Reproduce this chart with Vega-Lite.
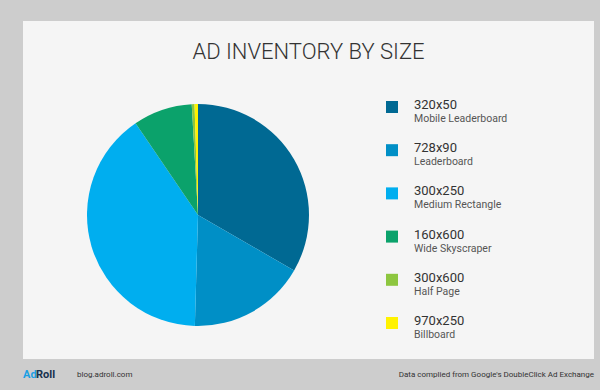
{
  "$schema": "https://vega.github.io/schema/vega-lite/v6.json",
  "background": "#cdcdcd",
  "padding": {"left": 23, "top": 21, "right": 6, "bottom": 0},
  "config": {"font": "Roboto", "view": {"stroke": null}},
  "spacing": 0,
  "resolve": {"scale": {"x": "independent", "y": "independent", "color": "independent"}},
  "datasets": {
    "inventory": [
      {"size": "320x50", "name": "Mobile Leaderboard", "share": 33.3},
      {"size": "728x90", "name": "Leaderboard", "share": 17.1},
      {"size": "300x250", "name": "Medium Rectangle", "share": 40.0},
      {"size": "160x600", "name": "Wide Skyscraper", "share": 8.6},
      {"size": "300x600", "name": "Half Page", "share": 0.4},
      {"size": "970x250", "name": "Billboard", "share": 0.5}
    ],
    "heading": [{"title": "AD INVENTORY BY SIZE"}]
  },
  "vconcat": [
    {
      "width": 571,
      "height": 57,
      "view": {"fill": "#f5f5f5", "stroke": null},
      "data": {"name": "heading"},
      "mark": {"type": "text", "fontSize": 22, "fontWeight": 300, "color": "#333333", "baseline": "alphabetic", "align": "center", "dy": 9.5, "dx": -2},
      "encoding": {
        "text": {"field": "title"},
        "x": {
          "field": "title",
          "type": "nominal",
          "scale": {"type": "point", "range": [23, 552]},
          "axis": {"orient": "bottom", "offset": 0, "domain": true, "domainColor": "#777777", "domainWidth": 1, "ticks": false, "labels": false, "title": null, "grid": false}
        }
      }
    },
    {
      "spacing": 0,
      "resolve": {"scale": {"x": "independent", "y": "independent", "color": "independent"}},
      "hconcat": [
        {
          "width": 350,
          "height": 281,
          "view": {"fill": "#f5f5f5", "stroke": null},
          "data": {"name": "inventory"},
          "transform": [{"window": [{"op": "row_number", "as": "idx"}]}],
          "mark": {"type": "arc", "radius": 111, "yOffset": -3.5},
          "encoding": {
            "theta": {"field": "share", "type": "quantitative", "stack": true},
            "order": {"field": "idx", "type": "quantitative"},
            "color": {
              "field": "size",
              "type": "nominal",
              "scale": {
                "domain": ["320x50", "728x90", "300x250", "160x600", "300x600", "970x250"],
                "range": ["#006993", "#008fc6", "#00aeef", "#0ba26b", "#8dc63f", "#fff200"]
              },
              "legend": null
            }
          }
        },
        {
          "width": 221,
          "height": 281,
          "view": {"fill": "#f5f5f5", "stroke": null},
          "data": {"name": "inventory"},
          "encoding": {
            "y": {
              "field": "size",
              "type": "nominal",
              "sort": ["320x50", "728x90", "300x250", "160x600", "300x600", "970x250"],
              "scale": {"type": "point", "padding": 0.752, "align": 0.446},
              "axis": null
            },
            "x": {"datum": "key", "type": "nominal", "scale": {"type": "point", "align": 0.086}, "axis": null}
          },
          "layer": [
            {
              "mark": {"type": "point", "shape": "square", "size": 144, "filled": true, "opacity": 1},
              "encoding": {
                "color": {
                  "field": "size",
                  "type": "nominal",
                  "scale": {
                    "domain": ["320x50", "728x90", "300x250", "160x600", "300x600", "970x250"],
                    "range": ["#006993", "#008fc6", "#00aeef", "#0ba26b", "#8dc63f", "#fff200"]
                  },
                  "legend": null
                }
              }
            },
            {
              "mark": {"type": "text", "align": "left", "baseline": "alphabetic", "dx": 22, "dy": 2, "fontSize": 13, "color": "#333333"},
              "encoding": {"text": {"field": "size"}}
            },
            {
              "mark": {"type": "text", "align": "left", "baseline": "alphabetic", "dx": 22, "dy": 15, "fontSize": 10.5, "color": "#555555"},
              "encoding": {"text": {"field": "name"}}
            }
          ]
        }
      ]
    },
    {
      "width": 571,
      "height": 31,
      "view": {"stroke": null},
      "layer": [
        {
          "data": {"values": [{"label": "Ad"}]},
          "mark": {"type": "text", "align": "left", "baseline": "middle", "fontSize": 11, "fontWeight": "bold", "color": "#1a9fe3"},
          "encoding": {
            "text": {"field": "label"},
            "x": {"datum": "left", "type": "nominal", "scale": {"type": "point", "domain": ["left", "right"], "padding": 0}, "axis": null}
          }
        },
        {
          "data": {"values": [{"label": "Roll"}]},
          "mark": {"type": "text", "align": "left", "baseline": "middle", "fontSize": 11, "fontWeight": "bold", "color": "#17314d", "dx": 13},
          "encoding": {
            "text": {"field": "label"},
            "x": {"datum": "left", "type": "nominal"}
          }
        },
        {
          "data": {"values": [{"label": "blog.adroll.com"}]},
          "mark": {"type": "text", "align": "left", "baseline": "middle", "fontSize": 8, "color": "#333333", "dx": 54},
          "encoding": {
            "text": {"field": "label"},
            "x": {"datum": "left", "type": "nominal"}
          }
        },
        {
          "data": {"values": [{"label": "Data complied from Google's DoubleClick Ad Exchange"}]},
          "mark": {"type": "text", "align": "right", "baseline": "middle", "fontSize": 8, "color": "#333333"},
          "encoding": {
            "text": {"field": "label"},
            "x": {"datum": "right", "type": "nominal"}
          }
        }
      ]
    }
  ]
}
